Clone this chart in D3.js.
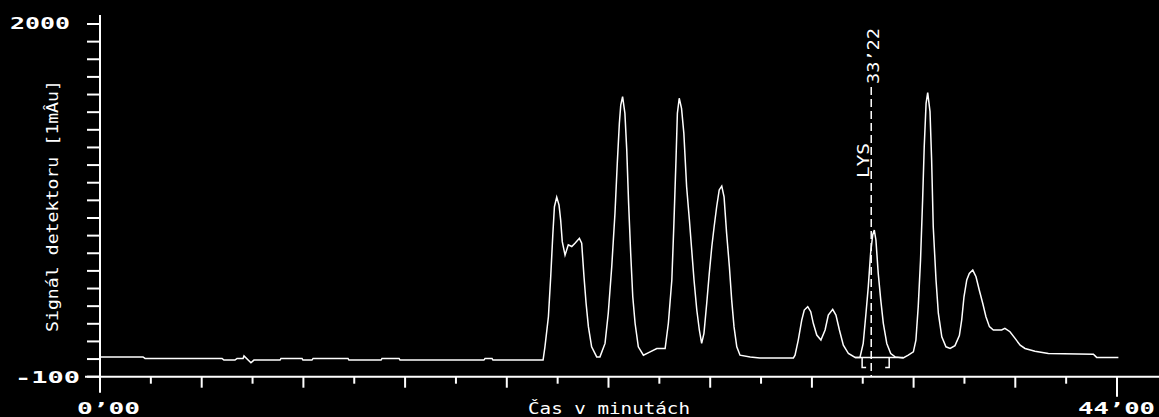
<!DOCTYPE html>
<html>
<head>
<meta charset="utf-8">
<script src="https://cdn.jsdelivr.net/npm/d3@7"></script>
<style>
  html, body { margin: 0; padding: 0; background: #000; }
  svg { display: block; }
</style>
</head>
<body>
<svg id="chart" width="1159" height="417"></svg>
<script>
// ---- data ----
const timeMin = [0,1.86,1.95,5.28,5.36,5.84,5.93,6.19,6.23,6.53,6.66,7.79,7.83,8.74,8.78,9.17,9.22,10.73,10.77,12.16,12.20,12.94,12.98,16.61,16.66,16.96,17.00,19.17,
19.25,19.40,19.50,19.59,19.66,19.76,19.86,19.93,20.00,20.12,20.26,20.41,20.55,20.74,20.84,20.94,21.03,21.13,21.27,21.49,21.63,
21.85,21.99,22.14,22.28,22.38,22.47,22.53,22.61,22.71,22.79,22.87,22.96,23.05,23.15,23.29,23.51,23.80,24.09,24.45,
24.59,24.74,24.83,24.92,24.98,25.06,25.16,25.26,25.38,25.50,25.60,25.70,25.82,25.93,26.03,26.13,26.25,26.36,26.47,26.57,26.68,26.79,26.90,27.00,27.11,27.23,27.33,27.43,27.55,27.69,28.13,28.55,30.00,
30.07,30.21,30.36,30.47,30.62,30.75,30.86,31.01,31.19,31.37,31.51,31.70,31.84,31.99,32.16,32.38,32.67,32.88,
33.02,33.14,33.24,33.34,33.43,33.50,33.57,33.67,33.78,33.89,34.04,34.21,34.40,34.75,34.97,35.19,
35.30,35.40,35.50,35.59,35.66,35.74,35.81,35.91,35.98,36.05,36.17,36.27,36.42,36.60,36.78,36.99,37.18,37.28,37.38,37.50,37.61,37.76,37.90,38.04,38.19,38.33,38.48,38.65,39.01,39.15,39.37,39.59,39.81,40.02,40.45,41.03,42.98,43.12,44.06];
const signal = [18,18,9,9,-1,-1,9,9,24,-17,-1,-1,9,9,-1,-1,9,9,-1,-1,9,9,-1,-1,9,9,-1,-1,
78,257,495,744,912,969,922,833,704,624,685,675,695,724,695,495,337,198,78,18,18,
98,278,555,873,1171,1409,1517,1567,1468,1249,932,635,376,218,78,28,48,68,68,
218,476,813,1190,1468,1558,1498,1349,1031,833,655,476,297,178,98,158,337,515,675,793,912,1012,1035,971,754,555,356,198,78,28,18,12,12,
28,118,237,297,317,287,218,148,118,178,267,301,267,178,88,38,15,15,
98,278,436,635,744,773,714,515,356,218,98,38,18,12,28,48,
118,317,595,952,1269,1527,1591,1478,1190,793,476,278,137,78,68,85,145,237,376,476,515,535,495,416,337,257,198,178,178,188,168,128,88,68,52,38,34,15,15];

const xDomain = [0, 44];
const yDomain = [-100, 2000];
const xTickCount = 20;           // divisions of the time axis
const yTickCount = 20;           // divisions of the signal axis
const xEndLabels = ["0’00", "44’00"];
const yEndLabels = ["2000", "-100"];
const xTitle = "Čas v minutách";
const yTitle = "Signál detektoru [1mÂu]";
const markTime = 33 + 22/60;     // 33'22
const markLabel = "33’22";
const peakLabel = "LYS";
const bracketTimes = [32.67, 34.75];

// ---- drawing ----
const svg = d3.select("#chart");
const W = 1159, H = 417;
svg.append("rect").attr("width", W).attr("height", H).attr("fill", "#000");

const x = d3.scaleLinear().domain(xDomain).range([100, 1117]);
const y = d3.scaleLinear().domain(yDomain).range([376.7, 24]);

const white = "#fff";
const monoFont = "'DejaVu Sans Mono', monospace";

// y axis line
svg.append("line")
  .attr("x1", x(0)).attr("x2", x(0))
  .attr("y1", y(yDomain[1]) - 9).attr("y2", y(yDomain[0]) + 16)
  .attr("stroke", white).attr("stroke-width", 2);
// x axis line
svg.append("line")
  .attr("x1", x(0) - 15).attr("x2", W)
  .attr("y1", y(yDomain[0])).attr("y2", y(yDomain[0]))
  .attr("stroke", white).attr("stroke-width", 2);

// y ticks
const yTicks = d3.range(yTickCount + 1).map(i => yDomain[0] + i * (yDomain[1] - yDomain[0]) / yTickCount);
svg.append("g").selectAll("line").data(yTicks).join("line")
  .attr("x1", x(0) - 13).attr("x2", x(0))
  .attr("y1", d => y(d)).attr("y2", d => y(d))
  .attr("stroke", white).attr("stroke-width", 2);

// x ticks
const xTicks = d3.range(xTickCount + 1).map(i => xDomain[0] + i * (xDomain[1] - xDomain[0]) / xTickCount);
svg.append("g").selectAll("line").data(xTicks).join("line")
  .attr("x1", d => x(d)).attr("x2", d => x(d))
  .attr("y1", y(yDomain[0])).attr("y2", (d, i) => y(yDomain[0]) + (i === xTickCount ? 20 : (i % 2 === 0 ? 11 : 7)))
  .attr("stroke", white).attr("stroke-width", 2);

// end labels (bold, wide)
function wideText(txt, xPos, yPos, len, size, weight, anchor) {
  return svg.append("text")
    .attr("x", xPos).attr("y", yPos)
    .attr("fill", white)
    .attr("font-family", monoFont)
    .attr("font-size", size)
    .attr("font-weight", weight)
    .attr("text-anchor", anchor || "start")
    .attr("textLength", len)
    .attr("lengthAdjust", "spacingAndGlyphs")
    .text(txt);
}
wideText(yEndLabels[0], 10, y(yDomain[1]) + 5, 60, 16, "bold");
wideText(yEndLabels[1], 15, y(yDomain[0]) + 6, 65, 16, "bold");
wideText(xEndLabels[0], 77, 414, 63, 16, "bold");
wideText(xEndLabels[1], 1078, 414, 77, 16, "bold");
wideText(xTitle, 528, 414, 162, 15, "normal");

// y title rotated
svg.append("text")
  .attr("transform", `translate(58, ${(80 + 332) / 2}) rotate(-90)`)
  .attr("fill", white).attr("font-family", monoFont).attr("font-size", 15)
  .attr("text-anchor", "middle")
  .attr("textLength", 252).attr("lengthAdjust", "spacingAndGlyphs")
  .text(yTitle);

// signal trace
const pts = timeMin.map((t, i) => [t, signal[i]]);
svg.append("path")
  .datum(pts)
  .attr("fill", "none").attr("stroke", white).attr("stroke-width", 1.5)
  .attr("stroke-linejoin", "miter")
  .attr("d", d3.line().x(d => x(d[0])).y(d => y(d[1])));

// marker line at 33'22
const mx = x(markTime);
svg.append("line")
  .attr("x1", mx).attr("x2", mx)
  .attr("y1", 87).attr("y2", y(yDomain[0]))
  .attr("stroke", white).attr("stroke-width", 1.5)
  .attr("stroke-dasharray", "8,4");
svg.append("text")
  .attr("transform", `translate(${mx + 8}, 84) rotate(-90)`)
  .attr("fill", white).attr("font-family", monoFont).attr("font-size", 15)
  .attr("textLength", 56).attr("lengthAdjust", "spacingAndGlyphs")
  .text(markLabel);
svg.append("text")
  .attr("transform", `translate(${mx - 2}, 178) rotate(-90)`)
  .attr("fill", white).attr("font-family", monoFont).attr("font-size", 15)
  .attr("textLength", 35).attr("lengthAdjust", "spacingAndGlyphs")
  .text(peakLabel);

// integration bracket
const by = y(15);
const bx0 = x(bracketTimes[0]), bx1 = x(bracketTimes[1]);
const bl = x(bracketTimes[0]) + 7, br = x(bracketTimes[1]) - 14;
svg.append("line").attr("x1", bx0).attr("x2", bx1).attr("y1", by).attr("y2", by)
  .attr("stroke", white).attr("stroke-width", 1.5);
svg.append("path")
  .attr("d", `M${bl + 4},${by + 10} H${bl} V${by} M${br - 4},${by + 10} H${br} V${by}`)
  .attr("fill", "none").attr("stroke", white).attr("stroke-width", 1.5);
</script>
</body>
</html>
